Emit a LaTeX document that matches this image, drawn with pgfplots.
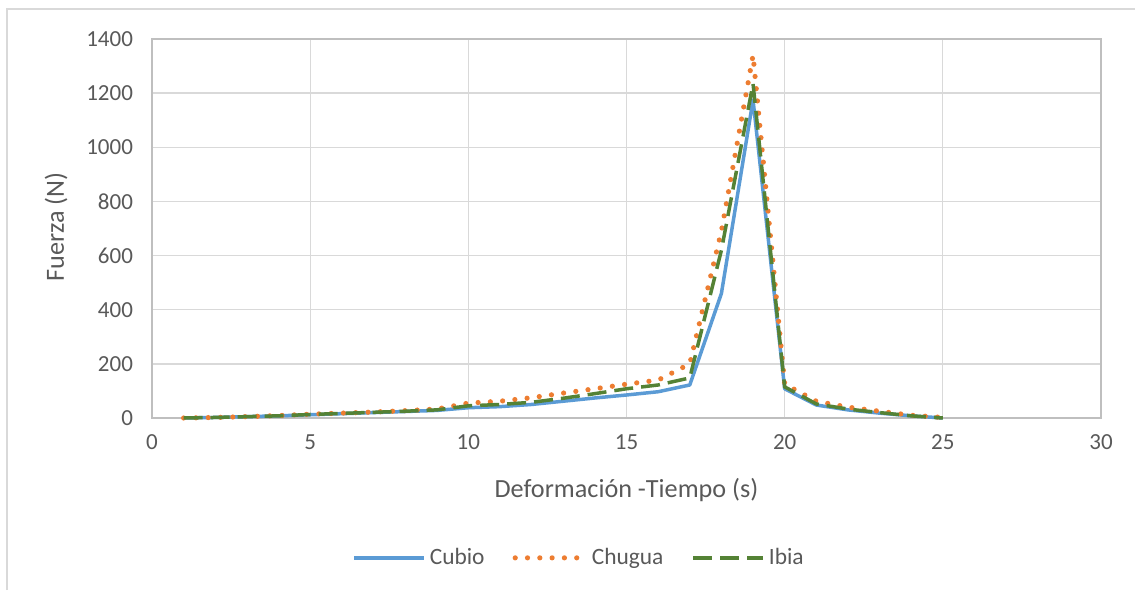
\documentclass[border=0pt]{standalone}
\usepackage{pgfplots}
\pgfplotsset{compat=1.18}
\usepackage{fontspec}
\setmainfont{Carlito}
\definecolor{cubio}{HTML}{5B9BD5}
\definecolor{chugua}{HTML}{ED7D31}
\definecolor{ibia}{HTML}{548235}
\definecolor{txt}{HTML}{595959}
\definecolor{gridc}{HTML}{D9D9D9}
\definecolor{axc}{HTML}{BFBFBF}

\begin{document}
\begin{tikzpicture}
% canvas: 567.5pt x 295pt, origin bottom left
\useasboundingbox (0pt,0pt) rectangle (567.5pt,295pt);
\draw[gridc, line width=0.7pt] (3.5pt,0pt) -- (3.5pt,290.5pt) -- (567.5pt,290.5pt);
\begin{axis}[
  at={(76pt,86pt)}, anchor=south west,
  width=474.5pt, height=189.5pt, scale only axis,
  xmin=0, xmax=30, ymin=0, ymax=1400,
  xtick={0,5,...,30}, ytick={0,200,...,1400},
  grid=major,
  major grid style={gridc, line width=0.65pt},
  axis line style={axc, line width=0.65pt},
  major tick length=0pt,
  font=\fontsize{11.5}{13}\selectfont,
  tick label style={txt},
  /pgf/number format/assume math mode=true,
  /pgf/number format/1000 sep={},
  xticklabel style={yshift=-5pt},
  yticklabel style={xshift=-6pt},
  xlabel={Deformación -Tiempo (s)},
  ylabel={Fuerza (N)},
  label style={txt, font=\fontsize{13.1}{15}\selectfont},
  xlabel style={at={(axis description cs:0.5,-0.19)}, anchor=center},
  ylabel style={at={(axis description cs:-0.101,0.504)}, anchor=center},
  legend columns=3,
  legend style={at={(axis description cs:0.451,-0.369)}, anchor=center,
    draw=none, fill=none, text=txt, font=\fontsize{11.7}{13}\selectfont,
    /tikz/every even column/.append style={column sep=12pt}},
  legend image code/.code={\draw[#1] (0pt,0pt) -- (35pt,0pt);},
  clip=false,
]
\addplot[cubio, line width=1.75pt, line join=round] coordinates {
(1,0) (2,2) (3,5) (4,8) (5,12) (6,16) (7,20) (8,24) (9,28) (10,38)
(11,42) (12,50) (13,62) (14,74) (15,85) (16,97) (17,122) (18,460)
(19,1175) (20,108) (21,48) (22,30) (23,18) (24,8) (25,0)};
\addlegendentry{Cubio}
\addplot[chugua, line width=2.6pt, line cap=round, dash pattern=on 0pt off 6.15pt] coordinates {
(1,0) (2,2) (3,5) (4,9) (5,14) (6,18) (7,22) (8,27) (9,33) (10,55)
(11,62) (12,75) (13,92) (14,108) (15,125) (16,140) (17,200) (18,690)
(19,1340) (20,125) (21,62) (22,40) (23,25) (24,10) (25,2)};
\addlegendentry{Chugua}
\addplot[ibia, line width=1.75pt, dash pattern=on 9.5pt off 4pt] coordinates {
(1,0) (2,2) (3,5) (4,8) (5,13) (6,17) (7,21) (8,25) (9,30) (10,45)
(11,50) (12,58) (13,73) (14,90) (15,108) (16,122) (17,148) (18,620)
(19,1235) (20,115) (21,52) (22,33) (23,20) (24,8) (25,0)};
\addlegendentry{Ibia}
\end{axis}
\end{tikzpicture}
\end{document}
